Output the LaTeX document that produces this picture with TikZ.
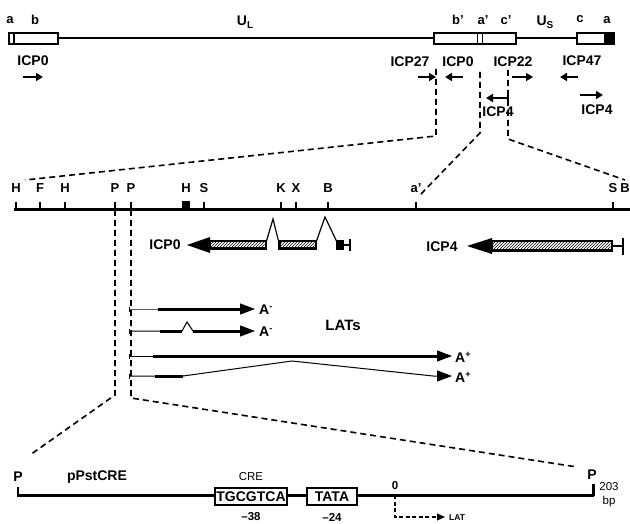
\documentclass[tikz,border=0pt]{standalone}
\usepackage{fontspec}
\setmainfont{Liberation Sans}
\usetikzlibrary{arrows.meta,patterns}

\tikzset{
  lbl/.style={font=\fontsize{14}{15}\selectfont\bfseries, inner sep=0pt},
  site/.style={font=\fontsize{13}{14}\selectfont\bfseries, inner sep=0pt},
  sml/.style={font=\fontsize{11.5}{12}\selectfont\bfseries, inner sep=0pt},
  thin lbl/.style={font=\fontsize{11.5}{12}\selectfont, inner sep=0pt},
  cut/.style={line width=1.6pt, dash pattern=on 6pt off 4pt},
  dir/.style={line width=2.6pt, -{Triangle[length=7pt,width=8pt]}},
  lat/.style={line width=1pt, -{Triangle[length=15pt,width=11pt]}},
  seg/.style={draw, line width=1.8pt, fill=white},
}
\newcommand{\hatchbox}[4]{%
  \fill (#1,#2) rectangle (#3,#4);
  \fill[white] (#1+2.5,#2+2.5) rectangle (#3-2.5,#4-2.5);
  \fill[pattern=north east lines] (#1+2.5,#2+2.5) rectangle (#3-2.5,#4-2.5);}

\begin{document}
\begin{tikzpicture}[x=1pt,y=-1pt]
  \useasboundingbox (0,0) rectangle (630,524);
  % genome
  \draw[line width=2pt] (10,38.5) -- (615,38.5);
  \draw[seg] (9,33) rectangle (58,44);
  \draw[line width=1.2pt] (14,34) -- (14,43);
  \draw[seg] (434,33) rectangle (516,44);
  \draw[line width=1.5pt] (477.5,33) -- (477.5,44);
  \draw[line width=1.5pt] (482.5,33) -- (482.5,44);
  \draw[seg] (577,33) rectangle (614,44);
  \fill (604,32) rectangle (615,45);
  \node[site] (ga) at (10,20) {a};
  \node[site] (gb) at (35,20) {b};
  \node[lbl] (ul) at (245,22) {U\raisebox{-3.5pt}{\fontsize{10}{10}\selectfont L}};
  \node[site] (gbp) at (458,20) {b'};
  \node[site] (gap) at (483,20) {a'};
  \node[site] (gcp) at (506,20) {c'};
  \node[lbl] (us) at (545,22) {U\raisebox{-3.5pt}{\fontsize{10}{10}\selectfont S}};
  \node[site] (gc) at (580,19) {c};
  \node[site] (ga2) at (607,20) {a};
  % transcripts
  \node[lbl] (t0a) at (33,61) {ICP0};
  \node[lbl] (t27) at (410,62) {ICP27};
  \node[lbl] (t0b) at (458,62) {ICP0};
  \node[lbl] (t22) at (513,62) {ICP22};
  \node[lbl] (t47) at (582,61) {ICP47};
  \draw[dir] (23,77) -- (43,77);
  \draw[dir] (418,77) -- (436,77);
  \draw[dir] (463,77) -- (445,77);
  \draw[dir] (512,77) -- (533,77);
  \draw[dir] (578,77) -- (560,77);
  \draw[dir] (508,98) -- (486,98);
  \draw[line width=1.6pt] (508,92) -- (508,103);
  \node[lbl] (t4a) at (498,112) {ICP4};
  \draw[dir] (580,95) -- (603,95);
  \node[lbl] (t4b) at (597,110) {ICP4};
  % expansion
  \draw[cut] (436,69) -- (436,136) -- (25,180);
  \draw[cut] (480,72) -- (480,133) -- (420,195);
  \draw[cut] (508,70) -- (508,139) -- (625,180);
  % restriction map
  \draw[line width=3pt] (14,210) -- (630,210);
  \foreach \x/\t in {16/H, 40/F, 65/H, 115/P, 131/P, 204/S, 281/K, 296/X, 328/B, 416/a', 613/S} {
    \draw[line width=2.6pt] (\x,202) -- (\x,210);
    \node[site] at (\x,188) {\t};
  }
  \fill (182,201) rectangle (190,210);
  \node[site] (hh) at (186,188) {H};
  \node[site] (be) at (625,188) {B};
  % ICP0 gene
  \node[lbl] (g0) at (165,245) {ICP0};
  \fill (187,245) -- (210,237) -- (210,253) -- cycle;
  \hatchbox{208}{240}{267}{250}
  \hatchbox{278}{240}{317}{250}
  \draw[line width=1.2pt] (266.5,241) -- (273,219) -- (278.5,241);
  \draw[line width=1.2pt] (316.5,241) -- (325,217) -- (336.5,241);
  \fill (336,240) rectangle (344,250);
  \draw[line width=1.2pt] (344,245) -- (350,245);
  \draw[line width=2pt] (350,239) -- (350,251);
  % ICP4 gene
  \node[lbl] (g4) at (442,247) {ICP4};
  \fill (467,246) -- (492,238) -- (492,254) -- cycle;
  \hatchbox{490}{240}{613}{252}
  \draw[line width=1.2pt] (613,246) -- (623,246);
  \draw[line width=2pt] (623,238) -- (623,255);
  % LATs
  \draw[cut] (115,210) -- (115,395) -- (30,455);
  \draw[cut] (131,210) -- (131,398) -- (577,467);
  \foreach \y in {309,331,356,376}
    \draw[line width=0.8pt] (129,\y-2.5) -- (129,\y+2.5);
  \draw[lat] (129,309) -- (158,309) -- (255,309);
  \draw[line width=3pt] (158,309) -- (242,309);
  \node[lbl, anchor=west] (am1) at (259,310) {A\raisebox{5pt}{\fontsize{9}{9}\selectfont -}};
  \draw[lat] (129,331) -- (160,331) -- (182,331) -- (187,322) -- (193,331) -- (255,331);
  \draw[line width=3pt] (160,331) -- (182,331);
  \draw[line width=3pt] (193,331) -- (242,331);
  \node[lbl, anchor=west] (am2) at (259,332) {A\raisebox{5pt}{\fontsize{9}{9}\selectfont -}};
  \node[lbl, font=\fontsize{15}{16}\selectfont\bfseries] (lats) at (343,325) {LATs};
  \draw[lat] (129,356) -- (452,356);
  \draw[line width=3pt] (153,356) -- (440,356);
  \node[lbl, anchor=west] (ap1) at (455,357) {A\raisebox{5pt}{\fontsize{9}{9}\selectfont +}};
  \draw[lat] (129,376) -- (183,376) -- (292,361) -- (433,376) -- (452,376);
  \draw[line width=3pt] (155,376) -- (183,376);
  \node[lbl, anchor=west] (ap2) at (455,377) {A\raisebox{5pt}{\fontsize{9}{9}\selectfont +}};
  % promoter fragment
  \draw[line width=3pt] (17,495) -- (594,495);
  \draw[line width=2.4pt] (18,487) -- (18,496);
  \draw[line width=3pt] (593,484) -- (593,496);
  \node[lbl] (pl) at (18,477) {P};
  \node[lbl] (plbl) at (97,477) {pPstCRE};
  \node[lbl] (pr) at (592,475) {P};
  \node[thin lbl] (bp203) at (609,487) {203};
  \node[thin lbl] (bp) at (609,502) {bp};
  \node[thin lbl] (cre) at (251,477) {CRE};
  \draw[seg, line width=1.2pt] (215,488) rectangle (287,505);
  \node[lbl] (tg) at (251,496.5) {TGCGTCA};
  \node[sml] (m38) at (251,517) {\textendash 38};
  \draw[seg, line width=1.2pt] (307,488) rectangle (357,505);
  \node[lbl] (ta) at (332,496.5) {TATA};
  \node[sml] (m24) at (332,517) {\textendash 24};
  \node[sml] (z) at (395,486) {0};
  \draw[line width=1.2pt, dash pattern=on 4pt off 2.5pt, -{Triangle[length=8pt,width=7pt]}]
    (395,495) -- (395,517) -- (445,517);
  \node[sml, font=\fontsize{8.5}{9}\selectfont\bfseries, anchor=west] (lat) at (449,518) {LAT};
\end{tikzpicture}
\end{document}
